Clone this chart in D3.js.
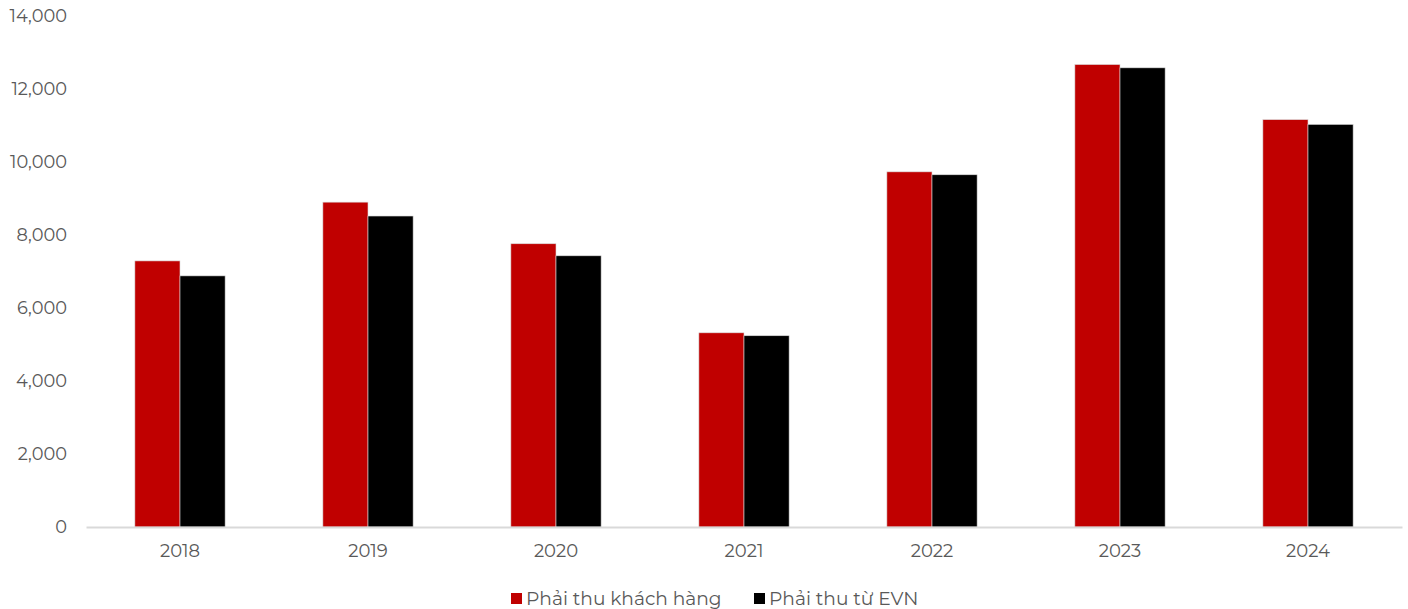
<!DOCTYPE html>
<html><head><meta charset="utf-8">
<script src="https://cdn.jsdelivr.net/npm/d3@7"></script>
<style>body{margin:0;background:#fff}svg{display:block}text{font-family:Montserrat,"Noto Sans",Lato,sans-serif}</style>
</head><body>
<svg id="c" width="1408" height="609"></svg>
<script>
const years = ["2018","2019","2020","2021","2022","2023","2024"];
const seriesNames = ["Phải thu khách hàng","Phải thu từ EVN"];
const khachHang = [7290,8900,7760,5320,9730,12670,11160];
const evn = [6880,8520,7430,5240,9650,12580,11030];
const yTicks = [0,2000,4000,6000,8000,10000,12000,14000];
const colors = ["#C00000","#000000"];

const svg = d3.select("#c");
const x0 = d3.scaleBand().domain(years).range([86,1402]).paddingInner(0.52).paddingOuter(0.26);
const x1 = d3.scaleBand().domain([0,1]).range([0,x0.bandwidth()]);
const y = d3.scaleLinear().domain([0,14000]).range([527,16]);

const fmt = d3.format(",");
const yAxis = svg.append("g").attr("transform","translate(67,0)")
  .call(d3.axisLeft(y).tickValues(yTicks).tickFormat(fmt).tickSize(0).tickPadding(0));
yAxis.select(".domain").remove();
yAxis.selectAll("text").attr("fill","#595959").style("font-size","17.8px").attr("text-anchor","end");

const data = years.map((yr,i)=>({yr, vals:[khachHang[i],evn[i]]}));
const g = svg.append("g");
const grp = g.selectAll("g").data(data).join("g").attr("transform",d=>`translate(${x0(d.yr)},0)`);
grp.selectAll("rect").data(d=>d.vals.map((v,k)=>({v,k}))).join("rect")
  .attr("x",d=>x1(d.k)).attr("width",x1.bandwidth())
  .attr("y",d=>y(d.v)).attr("height",d=>y(0)-y(d.v))
  .attr("fill",d=>colors[d.k]).attr("stroke","#d9d9d9").attr("stroke-width",0.6);

const xAxis = svg.append("g").attr("transform","translate(0,527)")
  .call(d3.axisBottom(x0).tickSize(0).tickPadding(17));
xAxis.select(".domain").attr("stroke","#d9d9d9").attr("stroke-width",2);
xAxis.selectAll("text").attr("fill","#595959").style("font-size","18px");

const leg = svg.append("g");
const legX = [511,754];
seriesNames.forEach((n,i)=>{
  leg.append("rect").attr("x",legX[i]).attr("y",593).attr("width",11).attr("height",11).attr("fill",colors[i]);
  leg.append("text").attr("x",legX[i]+15).attr("y",605).text(n).attr("fill","#595959").style("font-size","18.6px");
});
</script>
</body></html>
